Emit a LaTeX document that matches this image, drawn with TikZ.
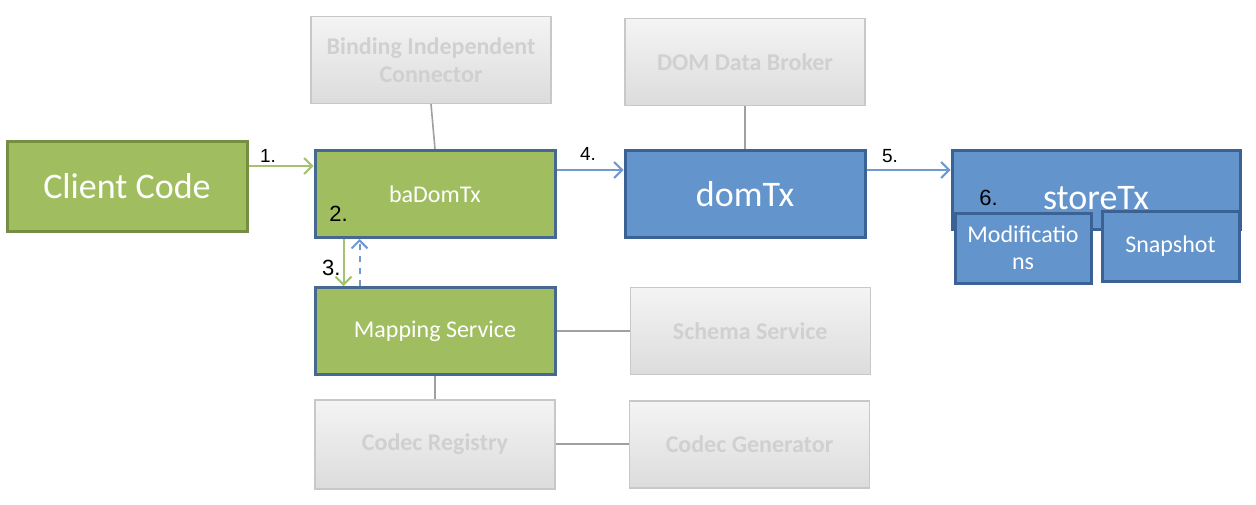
\documentclass[tikz,border=0pt]{standalone}
\usepackage{fontspec}
\setmainfont{Carlito}
\newfontfamily\numfont{Liberation Sans}
\usepackage{tikz}
\usetikzlibrary{positioning,arrows.meta}

\definecolor{bgreen}{RGB}{160,190,96}
\definecolor{cgreenline}{RGB}{118,142,66}
\definecolor{bandline}{RGB}{70,104,145}
\definecolor{dblue}{RGB}{99,148,203}
\definecolor{dblueline}{RGB}{58,98,148}
\definecolor{exttop}{RGB}{244,244,244}
\definecolor{extbot}{RGB}{220,220,220}
\definecolor{extline}{RGB}{200,200,200}
\definecolor{exttext}{RGB}{208,208,208}
\definecolor{linkgray}{RGB}{160,160,160}
\definecolor{agreen}{RGB}{165,194,112}
\definecolor{ablue}{RGB}{112,154,207}

\begin{document}
\begin{tikzpicture}[
  x=0.5pt, y=-0.5pt,
  font=\fontsize{12}{14}\selectfont,
  box/.style={draw, align=center, inner sep=2pt,
              minimum width=120pt, minimum height=43.5pt},
  gbox/.style={box, fill=bgreen, draw=bandline, line width=1.5pt, text=white},
  bbox/.style={box, fill=dblue, draw=dblueline, line width=1.5pt, text=white},
  xbox/.style={box, top color=exttop, bottom color=extbot, draw=extline,
               line width=0.75pt, text=exttext,
               font=\fontsize{12}{14}\selectfont\bfseries},
  big/.style={font=\fontsize{18}{20}\selectfont},
  num/.style={font=\numfont\fontsize{9.5}{11}\selectfont, inner sep=1.5pt},
  numbig/.style={font=\numfont\fontsize{11}{12}\selectfont, inner sep=1pt},
  link/.style={draw=linkgray, line width=0.8pt},
  garr/.style={-{Straight Barb[length=4pt,width=8pt]}, draw=agreen,
               line width=1pt},
  barr/.style={-{Straight Barb[length=4pt,width=8pt]}, draw=ablue,
               line width=1pt},
]
\useasboundingbox (0,0) rectangle (1256,504);
% ---- binding side ----------------------------------------------------
\node[gbox, draw=cgreenline, minimum height=45pt, big] (client)
  at (127,186) {Client Code};
\node[gbox] (ba) at (435,194) {baDomTx};
\node[xbox, above=22.5pt of ba, xshift=-2pt] (bic)
  {Binding Independent\\Connector};
\node[gbox, below=23.5pt of ba] (map) {Mapping Service};
\node[xbox, below=11.5pt of map, minimum height=44.5pt] (reg) {Codec Registry};
\node[xbox, right=36.5pt of map] (schema) {Schema Service};
\node[xbox, right=36.5pt of reg] (gen) {Codec Generator};
% ---- DOM side --------------------------------------------------------
\node[bbox, right=33.5pt of ba, big] (dom) {domTx};
\node[xbox, above=21.5pt of dom] (broker) {DOM Data Broker};
\node[bbox, minimum width=144pt, minimum height=39.5pt, text height=20pt,
  big] (store) at (1096,190) {storeTx};
\node[bbox, minimum width=68pt, minimum height=35pt,
  font=\fontsize{12}{13.5}\selectfont] (mods) at (1023,248) {Modificatio\\ns};
\node[bbox, minimum width=68.5pt, minimum height=35pt, right=4pt of mods,
  yshift=1pt] (snap) {Snapshot};
% ---- step numbers inside boxes ----------------------------------------
\node[numbig] (two) at ([xshift=12.5pt,yshift=12.5pt]ba.south west) {2.};
\node[numbig] (six) at ([xshift=19pt,yshift=-4pt]store.west) {6.};
% ---- gray links -------------------------------------------------------
\draw[link] (bic.south) -- (ba.north);
\draw[link] (broker) -- (dom);
\draw[link] (map) -- (schema);
\draw[link] (map) -- (reg);
\draw[link] (reg) -- (gen);
% ---- flow -------------------------------------------------------------
\coordinate (in1) at ([yshift=-8.5pt]ba.north west);
\draw[garr] (client.east |- in1) -- node[num, above, pos=.3]{1.} (in1);
\coordinate (in4) at ([yshift=-10.5pt]dom.north west);
\draw[barr] (ba.east |- in4) -- node[num, above=3pt, pos=.47]{4.} (in4);
\coordinate (in5) at ([yshift=-10.5pt]store.north west);
\draw[barr] (dom.east |- in5) -- node[num, above=1.5pt, pos=.28]{5.} (in5);
\coordinate (dn) at ([xshift=15pt]ba.south west);
\draw[garr] (dn) -- node[numbig, left, pos=.62]{3.} (map.north -| dn);
\coordinate (up) at ([xshift=23pt]map.north west);
\draw[barr, dashed] (up) -- (ba.south -| up);
\end{tikzpicture}
\end{document}
